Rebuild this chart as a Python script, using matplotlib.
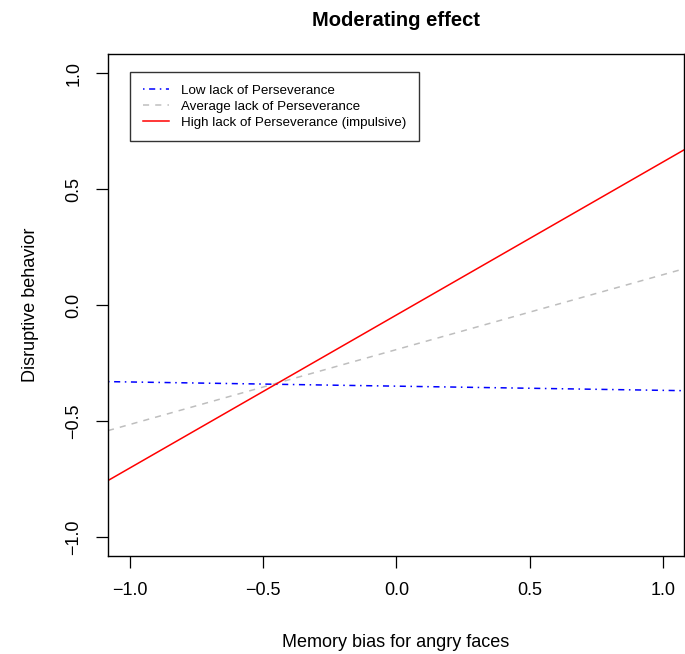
import matplotlib
matplotlib.use("Agg")
import matplotlib.pyplot as plt

plt.rcParams['font.family'] = ['Liberation Sans', 'DejaVu Sans']

# x range of the fitted lines (they run across the whole panel)
x_ends = [-1.082, 1.079]

low_ends = [-0.329, -0.368]
avg_ends = [-0.540, 0.157]
high_ends = [-0.755, 0.669]

labels = ["Low lack of Perseverance",
          "Average lack of Perseverance",
          "High lack of Perseverance (impulsive)"]
ticks = [-1.0, -0.5, 0.0, 0.5, 1.0]
tick_labels = ["\u22121.0", "\u22120.5", "0.0", "0.5", "1.0"]

fig = plt.figure(figsize=(6.85, 6.54), dpi=100)
ax = fig.add_axes([108 / 685, 98 / 654, 576 / 685, 502 / 654])

ax.plot(x_ends, low_ends, color="blue", linewidth=1.1, dashes=(1, 3, 4, 3),
        label=labels[0])
ax.plot(x_ends, avg_ends, color="#BEBEBE", linewidth=1.1, dashes=(4, 4),
        label=labels[1])
ax.plot(x_ends, high_ends, color="red", linewidth=1.1, label=labels[2])

ax.set_xlim(x_ends)
ax.set_ylim(-1.08, 1.082)
ax.set_xticks(ticks, tick_labels)
ax.set_yticks(ticks, tick_labels)
for lab in ax.get_yticklabels():
    lab.set_rotation(90)
    lab.set_va("center")
ax.tick_params(direction="out", length=8.6, width=0.9, labelsize=13, pad=10)
for sp in ax.spines.values():
    sp.set_linewidth(1.0)

ax.set_xlabel("Memory bias for angry faces", fontsize=13, labelpad=25)
ax.set_ylabel("Disruptive behavior", fontsize=13, labelpad=19)
ax.set_title("Moderating effect", fontsize=14.5, fontweight="bold", pad=20)

leg = ax.legend(loc="upper left", bbox_to_anchor=(22 / 576, 1 - 18 / 502),
                fontsize=9.6, frameon=True, fancybox=False, edgecolor="black",
                handlelength=2.0, borderaxespad=0, borderpad=0.95,
                labelspacing=0.26, handletextpad=0.9)
leg.get_frame().set_linewidth(1.0)

fig.savefig("out.png", dpi=100)
